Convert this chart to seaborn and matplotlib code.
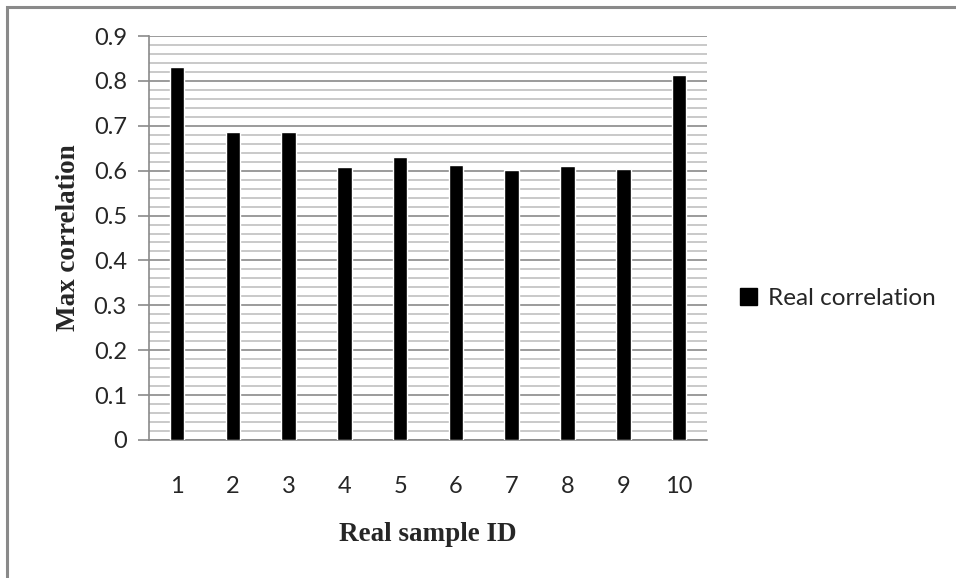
import matplotlib
matplotlib.use("Agg")
import matplotlib.pyplot as plt
import seaborn as sns
import pandas as pd
import numpy as np
from matplotlib.patches import Patch, Rectangle
from matplotlib.ticker import MultipleLocator

sample_ids = ["1", "2", "3", "4", "5", "6", "7", "8", "9", "10"]
max_corr = [0.830, 0.687, 0.687, 0.609, 0.631, 0.612, 0.602, 0.611, 0.603, 0.814]
series_name = "Real correlation"

df = pd.DataFrame({"id": sample_ids, "corr": max_corr})

sns.set_theme(style="white")
plt.rcParams["font.family"] = ["Lato", "DejaVu Sans"]

fig = plt.figure(figsize=(9.56, 5.78), dpi=100)
ax = fig.add_axes([0.156, 0.2388, 0.5835, 0.6989])

sns.barplot(data=df, x="id", y="corr", color="black", width=0.26,
            saturation=1, ax=ax, zorder=3)

ax.set_ylim(0, 0.9)
ax.yaxis.set_major_locator(MultipleLocator(0.1))
ax.yaxis.set_minor_locator(MultipleLocator(0.02))
ax.set_yticks(np.arange(0, 0.91, 0.1))
ax.set_yticklabels(["0"] + [f"{v:.1f}" for v in np.arange(0.1, 0.91, 0.1)])
ax.grid(which="minor", axis="y", color="#c0c0c0", linewidth=1.2, zorder=0)
ax.grid(which="major", axis="y", color="#8a8a8a", linewidth=1.2, zorder=0)
ax.set_axisbelow(True)

for s in ["top", "right"]:
    ax.spines[s].set_visible(False)
ax.spines["left"].set_color("#8a8a8a")
ax.spines["bottom"].set_color("#8a8a8a")
ax.spines["left"].set_linewidth(1.2)
ax.spines["bottom"].set_linewidth(1.2)

ax.tick_params(axis="y", which="major", left=True, length=8, width=1.2,
               color="#8a8a8a", labelsize=17, pad=8)
ax.tick_params(axis="y", which="minor", left=False)
ax.tick_params(axis="x", bottom=False, labelsize=17, pad=20)

ax.set_xlabel("Real sample ID", fontfamily="Liberation Serif",
              fontweight="bold", fontsize=19.5, labelpad=18)
ax.set_ylabel("Max correlation", fontfamily="Liberation Serif",
              fontweight="bold", fontsize=19.5, labelpad=9)

handle = Patch(facecolor="black", edgecolor="black", label=series_name)
fig.legend(handles=[handle], loc="center left", bbox_to_anchor=(0.774, 0.484),
           frameon=False, fontsize=17.5, handlelength=0.7, handleheight=0.7,
           handletextpad=0.45, borderaxespad=0, borderpad=0)

fig.add_artist(Rectangle((6.5 / 956, -0.1), 1.2, 1.1 - 7.5 / 578,
                         transform=fig.transFigure, fill=False,
                         edgecolor="#8a8a8a", linewidth=2.2))

fig.savefig("out.png", dpi=100)
